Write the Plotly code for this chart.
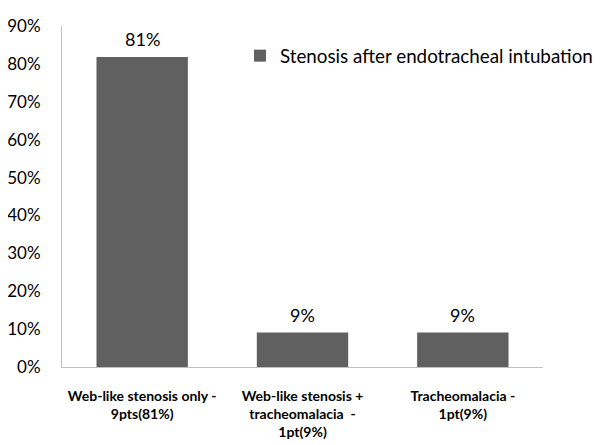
import plotly.graph_objects as go

categories = ["Web-like stenosis only -<br>9pts(81%)",
              "Web-like stenosis +<br>tracheomalacia  -<br>1pt(9%)",
              "Tracheomalacia -<br>1pt(9%)"]
values = [0.818, 0.091, 0.091]
value_labels = ["81%", "9%", "9%"]
series_name = "Stenosis after endotracheal intubation"
tick_vals = [0, 0.1, 0.2, 0.3, 0.4, 0.5, 0.6, 0.7, 0.8, 0.9]
tick_text = ["0%", "10%", "20%", "30%", "40%", "50%", "60%", "70%", "80%", "90%"]

font_family = "Lato, Open Sans, sans-serif"

fig = go.Figure()
fig.add_trace(go.Bar(
    x=categories, y=values, name=series_name,
    marker=dict(color="#606060", line=dict(width=0)),
    width=0.57, showlegend=True,
))
for cat, val, lab in zip(categories, values, value_labels):
    fig.add_annotation(x=cat, y=val, text=lab, showarrow=False,
                       yanchor="bottom", yshift=5,
                       font=dict(size=18, color="#000000", family=font_family))
fig.update_layout(
    width=592, height=437,
    margin=dict(l=54, r=57, t=18, b=78, autoexpand=False),
    paper_bgcolor="white", plot_bgcolor="white",
    font=dict(family=font_family, color="#000000"),
    showlegend=True,
    legend=dict(x=0.370, y=0.968, xanchor="left", yanchor="top",
                font=dict(size=18.8, family=font_family),
                bgcolor="rgba(0,0,0,0)", itemwidth=30),
    yaxis=dict(range=[0, 0.9], tickvals=tick_vals, ticktext=tick_text,
               showgrid=False, zeroline=False, showline=True,
               linecolor="#BFBFBF", linewidth=1, ticks="", ticklen=0,
               ticklabelstandoff=17, automargin=False,
               tickfont=dict(size=17, family=font_family)),
    xaxis=dict(showgrid=False, showline=True, linecolor="#BFBFBF", linewidth=1,
               ticks="", ticklabelstandoff=16, automargin=False,
               tickfont=dict(size=14, family=font_family, weight="bold"),
               tickangle=0),
)
fig.write_html("out.html")
